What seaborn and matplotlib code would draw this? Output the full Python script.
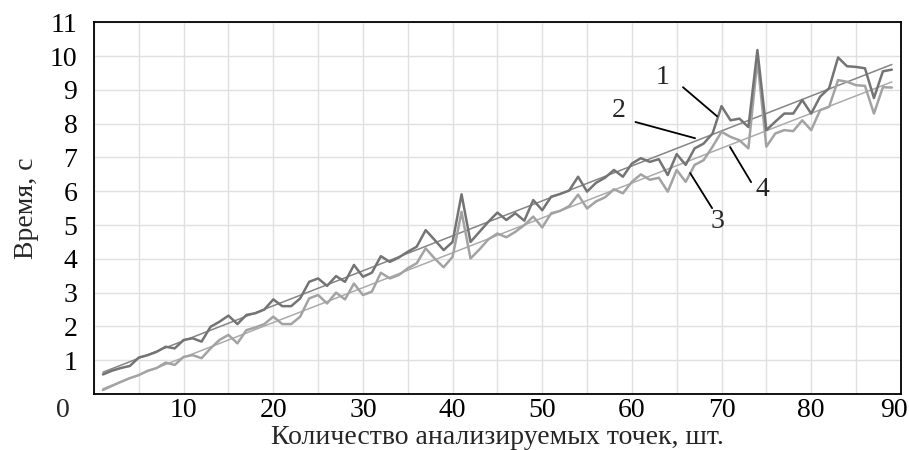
import numpy as np
import pandas as pd
import seaborn as sns
import matplotlib.pyplot as plt
from matplotlib.transforms import ScaledTranslation

# данные: время обработки в зависимости от количества точек
points = list(range(1, 90))

time_1 = [0.58, 0.69, 0.77, 0.83, 1.08, 1.15, 1.25, 1.40, 1.35, 1.60,
          1.65, 1.55, 1.99, 2.14, 2.32, 2.07, 2.34, 2.39, 2.50, 2.80,
          2.60, 2.60, 2.83, 3.32, 3.42, 3.20, 3.49, 3.32, 3.82, 3.47,
          3.59, 4.08, 3.91, 4.04, 4.21, 4.36, 4.85, 4.56, 4.26, 4.50,
          5.91, 4.50, 4.80, 5.10, 5.37, 5.15, 5.35, 5.13, 5.74, 5.44,
          5.84, 5.92, 6.02, 6.43, 5.99, 6.25, 6.40, 6.63, 6.43, 6.82,
          6.98, 6.87, 6.95, 6.48, 7.10, 6.78, 7.27, 7.41, 7.71, 8.52,
          8.10, 8.15, 7.90, 10.18, 7.81, 8.06, 8.30, 8.30, 8.70, 8.30,
          8.80, 9.05, 9.96, 9.70, 9.68, 9.64, 8.76, 9.55, 9.60]

time_3 = [0.12, 0.24, 0.36, 0.47, 0.56, 0.69, 0.77, 0.93, 0.86, 1.10,
          1.15, 1.06, 1.35, 1.60, 1.75, 1.50, 1.89, 1.97, 2.07, 2.29,
          2.07, 2.07, 2.29, 2.83, 2.93, 2.68, 3.00, 2.80, 3.27, 2.93,
          3.03, 3.59, 3.42, 3.52, 3.72, 3.87, 4.31, 4.01, 3.75, 4.06,
          5.39, 4.01, 4.28, 4.58, 4.75, 4.64, 4.80, 5.00, 5.25, 4.93,
          5.35, 5.42, 5.56, 5.90, 5.49, 5.70, 5.82, 6.06, 5.94, 6.28,
          6.50, 6.34, 6.40, 5.99, 6.63, 6.28, 6.78, 6.92, 7.32, 7.76,
          7.61, 7.51, 7.27, 9.88, 7.32, 7.71, 7.81, 7.78, 8.10, 7.81,
          8.40, 8.50, 9.29, 9.24, 9.14, 9.12, 8.30, 9.08, 9.07]

x_ticks = [10, 20, 30, 40, 50, 60, 70, 80, 90]
y_ticks = [1, 2, 3, 4, 5, 6, 7, 8, 9, 10, 11]

df = pd.DataFrame({'n': points, 't1': time_1, 't3': time_3})

# линейные тренды (2 и 4), как в Excel
k1, b1 = np.polyfit(df['n'], df['t1'], 1)
k3, b3 = np.polyfit(df['n'], df['t3'], 1)
df['t2'] = k1 * df['n'] + b1
df['t4'] = k3 * df['n'] + b3

sns.set_style('white')
plt.rcParams['font.family'] = ['Liberation Serif', 'DejaVu Serif']

fig = plt.figure(figsize=(9.09, 4.5), dpi=100)
ax = fig.add_axes([0.1034, 0.1244, 0.8876, 0.826])

sns.lineplot(data=df, x='n', y='t2', ax=ax, color='#858585', lw=1.1)
sns.lineplot(data=df, x='n', y='t4', ax=ax, color='#ababab', lw=1.1)
sns.lineplot(data=df, x='n', y='t3', ax=ax, color='#a3a3a3', lw=1.8)
sns.lineplot(data=df, x='n', y='t1', ax=ax, color='#747474', lw=1.8)

ax.set_xlim(0, 90)
ax.set_ylim(0, 11)
ax.set_xticks(np.arange(0, 91, 5))
ax.set_xticklabels([str(v) if v in x_ticks else '' for v in range(0, 91, 5)])
ax.set_yticks(y_ticks)
ax.set_yticklabels([str(v) for v in y_ticks])
ax.grid(True, color='#e0e0e0', lw=1)
ax.set_axisbelow(True)
ax.tick_params(axis='both', length=0, labelsize=20, colors='black')
ax.tick_params(axis='x', pad=3)
ax.tick_params(axis='y', pad=12)
for s in ax.spines.values():
    s.set_color('black')
    s.set_linewidth(1.3)

# подпись "90" чуть левее, чтобы не обрезалась
last = ax.get_xticklabels()[-1]
last.set_transform(last.get_transform() + ScaledTranslation(-5 / 72, 0, fig.dpi_scale_trans))

ax.text(-0.03, -0.045, '0', transform=ax.transAxes, fontsize=20,
        ha='right', va='center')

ax.set_xlabel('Количество анализируемых точек, шт.', fontsize=20, labelpad=1)
ax.set_ylabel('Время, с', fontsize=20, labelpad=8)

# подписи кривых
labels = [('1', 63.4, 9.38, (65.7, 9.08), (69.5, 8.22)),
          ('2', 58.5, 8.40, (60.4, 8.05), (67.05, 7.57)),
          ('3', 69.6, 5.12, (66.5, 6.54), (68.95, 5.50)),
          ('4', 74.6, 6.04, (70.95, 7.31), (73.3, 6.27))]
for txt, tx, ty, p0, p1 in labels:
    ax.text(tx, ty, txt, fontsize=20, ha='center', va='center')
    ax.plot([p0[0], p1[0]], [p0[1], p1[1]], color='black', lw=1.3)

plt.savefig('out.png', dpi=100)
